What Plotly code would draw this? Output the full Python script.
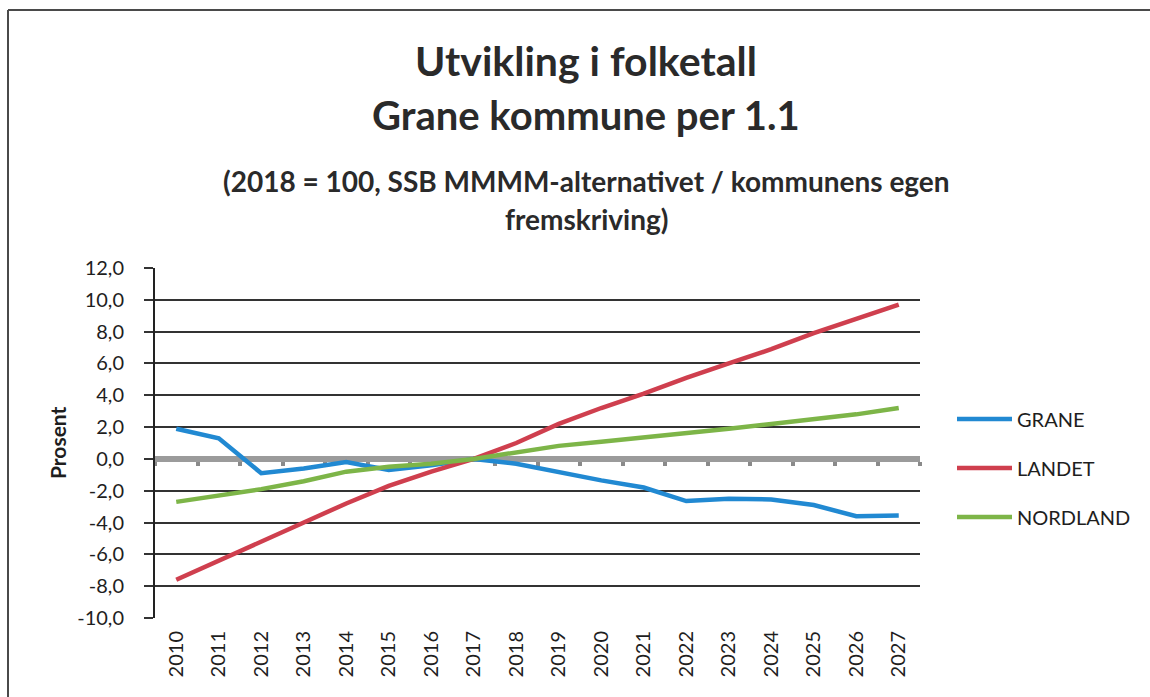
import plotly.graph_objects as go

years = [str(y) for y in range(2010, 2028)]
grane = [1.9, 1.3, -0.9, -0.6, -0.2, -0.7, -0.4, 0.0, -0.3, -0.85, -1.35, -1.8, -2.65, -2.5, -2.55, -2.9, -3.6, -3.55]
landet = [-7.6, -6.4, -5.2, -4.0, -2.8, -1.7, -0.8, 0.0, 1.0, 2.2, 3.2, 4.1, 5.1, 6.0, 6.9, 7.9, 8.8, 9.7]
nordland = [-2.7, -2.3, -1.9, -1.4, -0.8, -0.5, -0.3, 0.0, 0.4, 0.82, 1.08, 1.33, 1.6, 1.9, 2.2, 2.5, 2.8, 3.2]
y_ticks = [-10, -8, -6, -4, -2, 0, 2, 4, 6, 8, 10, 12]
y_ticktext = ["-10,0", "-8,0", "-6,0", "-4,0", "-2,0", "0,0", "2,0", "4,0", "6,0", "8,0", "10,0", "12,0"]

W, H = 1150, 697
L, R, T, B = 155, 920, 268, 618
YMIN, YMAX = -10, 12

def px_x(p):
    return (p - L) / (R - L)

def px_y(p):
    return (B - p) / (B - T)

FONT = "Lato"
TXT = "#1e1e1e"

fig = go.Figure()
series = [("GRANE", grane, "#2189d2"), ("LANDET", landet, "#cf3f4e"), ("NORDLAND", nordland, "#7db548")]
for name, vals, col in series:
    fig.add_trace(go.Scatter(x=years, y=vals, mode="lines", name=name, legendgroup=name,
                             line=dict(color=col, width=4.5)))

# helper trace for the bottom label axis
fig.add_trace(go.Scatter(x=[], y=[], xaxis="x2", yaxis="y", showlegend=False, hoverinfo="skip"))

annots = [
    dict(text="<b>Utvikling i folketall</b>", y=60, size=41),
    dict(text="<b>Grane kommune per 1.1</b>", y=115, size=40),
    dict(text="<b>(2018 = 100, SSB MMMM-alternativet / kommunens egen</b>", y=181, size=28),
    dict(text="<b>fremskriving)</b>", y=219, size=28),
]
for a in annots:
    fig.add_annotation(text=a["text"], xref="paper", yref="paper", x=px_x(586), y=px_y(a["y"]),
                       xanchor="center", yanchor="middle", showarrow=False,
                       font=dict(family=FONT, size=a["size"], color="#2a2a2a"))

fig.add_annotation(text="<b>Prosent</b>", xref="paper", yref="paper", x=px_x(57), y=px_y(443),
                   xanchor="center", yanchor="middle", textangle=-90, showarrow=False,
                   font=dict(family=FONT, size=21, color=TXT))

# outer chart frame (top and left edges visible)
fig.add_shape(type="line", xref="paper", yref="paper", x0=px_x(8), x1=px_x(1160), y0=px_y(10), y1=px_y(10),
              line=dict(color="#4a4a4a", width=2), layer="below")
fig.add_shape(type="line", xref="paper", yref="paper", x0=px_x(8), x1=px_x(8), y0=px_y(10), y1=px_y(710),
              line=dict(color="#4a4a4a", width=2), layer="below")

fig.update_layout(
    width=W, height=H, autosize=False,
    margin=dict(l=L, r=W - R, t=T, b=H - B, pad=0),
    paper_bgcolor="white", plot_bgcolor="white",
    font=dict(family=FONT, color=TXT),
    showlegend=True,
    legend=dict(x=px_x(952), xanchor="left", y=px_y(468), yanchor="middle",
                font=dict(family=FONT, size=20, color=TXT), tracegroupgap=20,
                itemwidth=55, bgcolor="rgba(0,0,0,0)"),
    xaxis=dict(type="category", categoryorder="array", categoryarray=years, range=[-0.5, len(years) - 0.5],
               anchor="free", position=(0 - YMIN) / (YMAX - YMIN),
               showline=True, linecolor="#9b9b9b", linewidth=6,
               ticks="outside", tickson="boundaries", ticklen=4, tickwidth=4, tickcolor="#8a8a8a",
               showticklabels=False, showgrid=False, zeroline=False, layer="below traces"),
    xaxis2=dict(overlaying="x", anchor="y", side="bottom", type="linear", range=[-0.5, len(years) - 0.5],
                tickvals=list(range(len(years))), ticktext=years, tickangle=-90,
                ticks="", showline=False, showgrid=False, zeroline=False,
                tickfont=dict(family=FONT, size=20, color=TXT), ticklabelstandoff=8),
    yaxis=dict(range=[YMIN, YMAX], tickvals=y_ticks, ticktext=y_ticktext,
               showline=True, linecolor="#222222", linewidth=2,
               ticks="outside", ticklen=9, tickwidth=1.5, tickcolor="#333333",
               showgrid=True, gridcolor="#333333", gridwidth=1.5, zeroline=False,
               tickfont=dict(family=FONT, size=20, color=TXT), ticklabelstandoff=16),
)

fig.write_html("out.html", config={"displayModeBar": False},
               post_script="document.body.style.margin='0';document.body.style.overflow='hidden';")
